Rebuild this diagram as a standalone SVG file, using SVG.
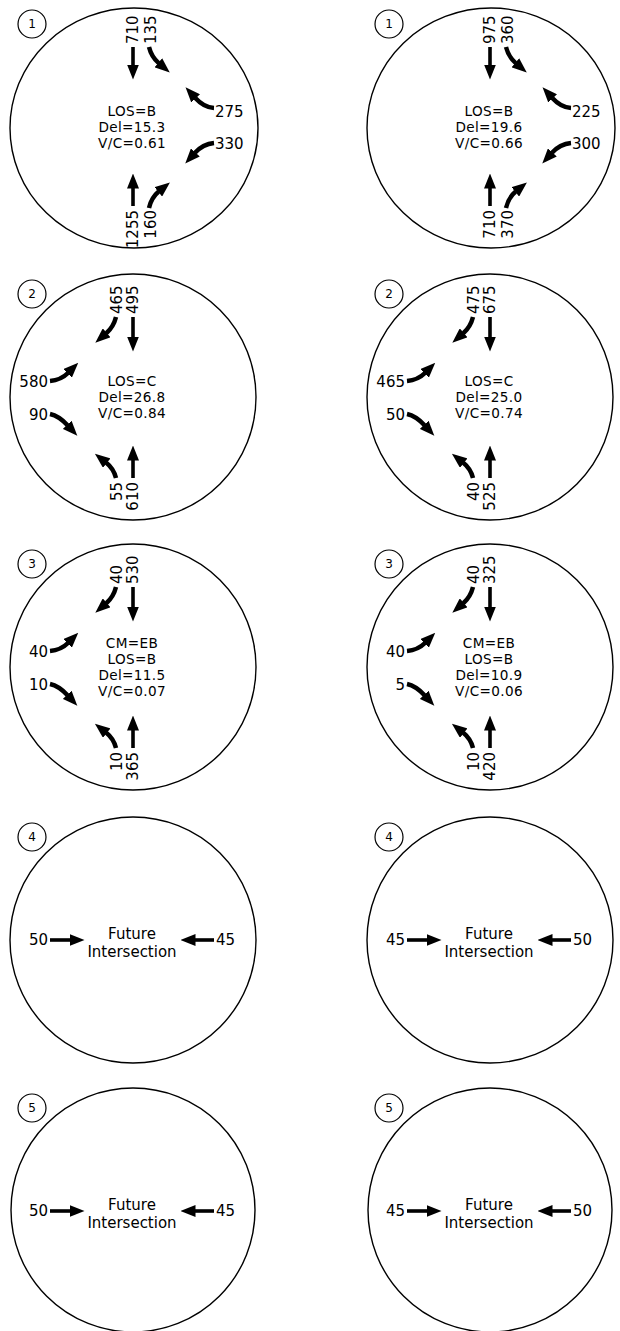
<svg xmlns="http://www.w3.org/2000/svg" width="620" height="1331" viewBox="0 0 620 1331">
<style>
text{font-family:"DejaVu Sans","Liberation Sans",sans-serif;font-size:15px;fill:#000}
.big{fill:none;stroke:#000;stroke-width:1.4}
.tag{fill:none;stroke:#000;stroke-width:1.2}
.num{font-size:12px;text-anchor:middle}
.c{text-anchor:middle}
.m{text-anchor:middle;font-size:13.6px;letter-spacing:0.35px}
.e{text-anchor:end}
.s{stroke:#000;stroke-width:3.6;fill:none;marker-end:url(#ah)}
.cv{stroke:#000;stroke-width:4.5;fill:none;marker-end:url(#ah)}
</style>
<defs>
<marker id="ah" markerUnits="userSpaceOnUse" viewBox="0 0 15 12" markerWidth="15" markerHeight="12" refX="0.5" refY="6" orient="auto">
<path d="M0,0 L15,6 L0,12 Z" fill="#000"/>
</marker>
<g id="mvA">
<path class="s" d="M133,47 V65"/>
<path class="cv" d="M149,47 Q151.5,57 158.7,63.1"/>
<path class="cv" d="M214,108 Q204,107.5 195.3,98"/>
<path class="cv" d="M214,143 Q203,144 195,152.8"/>
<path class="s" d="M133,206 V188"/>
<path class="cv" d="M149,208 Q151.5,197.5 158.7,191.6"/>
</g>
<g id="mvB">
<path class="s" d="M133,317 V337"/>
<path class="cv" d="M116,317 Q113.5,327 106.3,333.2"/>
<path class="cv" d="M50,381 Q61,380 68,373"/>
<path class="cv" d="M50,414 Q59,416 67.5,425.2"/>
<path class="cv" d="M116,478 Q113.5,468.5 106.3,462.8"/>
<path class="s" d="M133,478 V460"/>
</g>
<g id="mvC">
<path class="s" d="M50,940 H70"/>
<path class="s" d="M214,940 H195"/>
</g>
</defs>

<!-- Row 1 -->
<g id="int1-left">
<ellipse class="big" cx="134" cy="128" rx="124" ry="120"/>
<circle class="tag" cx="32" cy="24" r="14"/>
<text class="num" x="32" y="28.3">1</text>
<use href="#mvA"/>
<text transform="translate(137.5,44) rotate(-90)">710</text>
<text transform="translate(155.5,44) rotate(-90)">135</text>
<text x="215" y="116.5">275</text>
<text x="215" y="149">330</text>
<text class="e" transform="translate(137.5,210) rotate(-90)">1255</text>
<text class="e" transform="translate(155.5,210) rotate(-90)">160</text>
<text class="m" x="132" y="116">LOS=B</text>
<text class="m" x="132" y="132">Del=15.3</text>
<text class="m" x="132" y="148">V/C=0.61</text>
</g>
<g id="int1-right" transform="translate(357,0)">
<ellipse class="big" cx="134" cy="128" rx="124" ry="120"/>
<circle class="tag" cx="32" cy="24" r="14"/>
<text class="num" x="32" y="28.3">1</text>
<use href="#mvA"/>
<text transform="translate(137.5,44) rotate(-90)">975</text>
<text transform="translate(155.5,44) rotate(-90)">360</text>
<text x="215" y="116.5">225</text>
<text x="215" y="149">300</text>
<text class="e" transform="translate(137.5,210) rotate(-90)">710</text>
<text class="e" transform="translate(155.5,210) rotate(-90)">370</text>
<text class="m" x="132" y="116">LOS=B</text>
<text class="m" x="132" y="132">Del=19.6</text>
<text class="m" x="132" y="148">V/C=0.66</text>
</g>

<!-- Row 2 -->
<g id="int2-left">
<circle class="big" cx="133" cy="397" r="123"/>
<circle class="tag" cx="32" cy="294" r="14"/>
<text class="num" x="32" y="298.3">2</text>
<use href="#mvB"/>
<text transform="translate(122,314) rotate(-90)">465</text>
<text transform="translate(138,314) rotate(-90)">495</text>
<text class="e" x="48" y="387">580</text>
<text class="e" x="48" y="420">90</text>
<text class="e" transform="translate(122,482) rotate(-90)">55</text>
<text class="e" transform="translate(138,482) rotate(-90)">610</text>
<text class="m" x="132" y="386">LOS=C</text>
<text class="m" x="132" y="402">Del=26.8</text>
<text class="m" x="132" y="418">V/C=0.84</text>
</g>
<g id="int2-right" transform="translate(357,0)">
<circle class="big" cx="133" cy="397" r="123"/>
<circle class="tag" cx="32" cy="294" r="14"/>
<text class="num" x="32" y="298.3">2</text>
<use href="#mvB"/>
<text transform="translate(122,314) rotate(-90)">475</text>
<text transform="translate(138,314) rotate(-90)">675</text>
<text class="e" x="48" y="387">465</text>
<text class="e" x="48" y="420">50</text>
<text class="e" transform="translate(122,482) rotate(-90)">40</text>
<text class="e" transform="translate(138,482) rotate(-90)">525</text>
<text class="m" x="132" y="386">LOS=C</text>
<text class="m" x="132" y="402">Del=25.0</text>
<text class="m" x="132" y="418">V/C=0.74</text>
</g>

<!-- Row 3 -->
<g id="int3-left">
<circle class="big" cx="133" cy="667" r="123"/>
<circle class="tag" cx="32" cy="564" r="14"/>
<text class="num" x="32" y="568.3">3</text>
<use href="#mvB" transform="translate(0,270)"/>
<text transform="translate(122,584) rotate(-90)">40</text>
<text transform="translate(138,584) rotate(-90)">530</text>
<text class="e" x="48" y="657">40</text>
<text class="e" x="48" y="690">10</text>
<text class="e" transform="translate(122,752) rotate(-90)">10</text>
<text class="e" transform="translate(138,752) rotate(-90)">365</text>
<text class="m" x="132" y="648">CM=EB</text>
<text class="m" x="132" y="664">LOS=B</text>
<text class="m" x="132" y="680">Del=11.5</text>
<text class="m" x="132" y="696">V/C=0.07</text>
</g>
<g id="int3-right" transform="translate(357,0)">
<circle class="big" cx="133" cy="667" r="123"/>
<circle class="tag" cx="32" cy="564" r="14"/>
<text class="num" x="32" y="568.3">3</text>
<use href="#mvB" transform="translate(0,270)"/>
<text transform="translate(122,584) rotate(-90)">40</text>
<text transform="translate(138,584) rotate(-90)">325</text>
<text class="e" x="48" y="657">40</text>
<text class="e" x="48" y="690">5</text>
<text class="e" transform="translate(122,752) rotate(-90)">10</text>
<text class="e" transform="translate(138,752) rotate(-90)">420</text>
<text class="m" x="132" y="648">CM=EB</text>
<text class="m" x="132" y="664">LOS=B</text>
<text class="m" x="132" y="680">Del=10.9</text>
<text class="m" x="132" y="696">V/C=0.06</text>
</g>

<!-- Row 4 -->
<g id="int4-left">
<circle class="big" cx="133" cy="940" r="123"/>
<circle class="tag" cx="32" cy="837" r="14"/>
<text class="num" x="32" y="841.3">4</text>
<use href="#mvC"/>
<text class="e" x="48" y="945">50</text>
<text x="216" y="945">45</text>
<text class="c" x="132" y="938.5">Future</text>
<text class="c" x="132" y="956.5">Intersection</text>
</g>
<g id="int4-right" transform="translate(357,0)">
<circle class="big" cx="133" cy="940" r="123"/>
<circle class="tag" cx="32" cy="837" r="14"/>
<text class="num" x="32" y="841.3">4</text>
<use href="#mvC"/>
<text class="e" x="48" y="945">45</text>
<text x="216" y="945">50</text>
<text class="c" x="132" y="938.5">Future</text>
<text class="c" x="132" y="956.5">Intersection</text>
</g>

<!-- Row 5 -->
<g id="int5-left">
<circle class="big" cx="133" cy="1210" r="122"/>
<circle class="tag" cx="32" cy="1108" r="14"/>
<text class="num" x="32" y="1112.3">5</text>
<use href="#mvC" transform="translate(0,271)"/>
<text class="e" x="48" y="1216">50</text>
<text x="216" y="1216">45</text>
<text class="c" x="132" y="1209.5">Future</text>
<text class="c" x="132" y="1227.5">Intersection</text>
</g>
<g id="int5-right" transform="translate(357,0)">
<circle class="big" cx="133" cy="1210" r="122"/>
<circle class="tag" cx="32" cy="1108" r="14"/>
<text class="num" x="32" y="1112.3">5</text>
<use href="#mvC" transform="translate(0,271)"/>
<text class="e" x="48" y="1216">45</text>
<text x="216" y="1216">50</text>
<text class="c" x="132" y="1209.5">Future</text>
<text class="c" x="132" y="1227.5">Intersection</text>
</g>
</svg>
